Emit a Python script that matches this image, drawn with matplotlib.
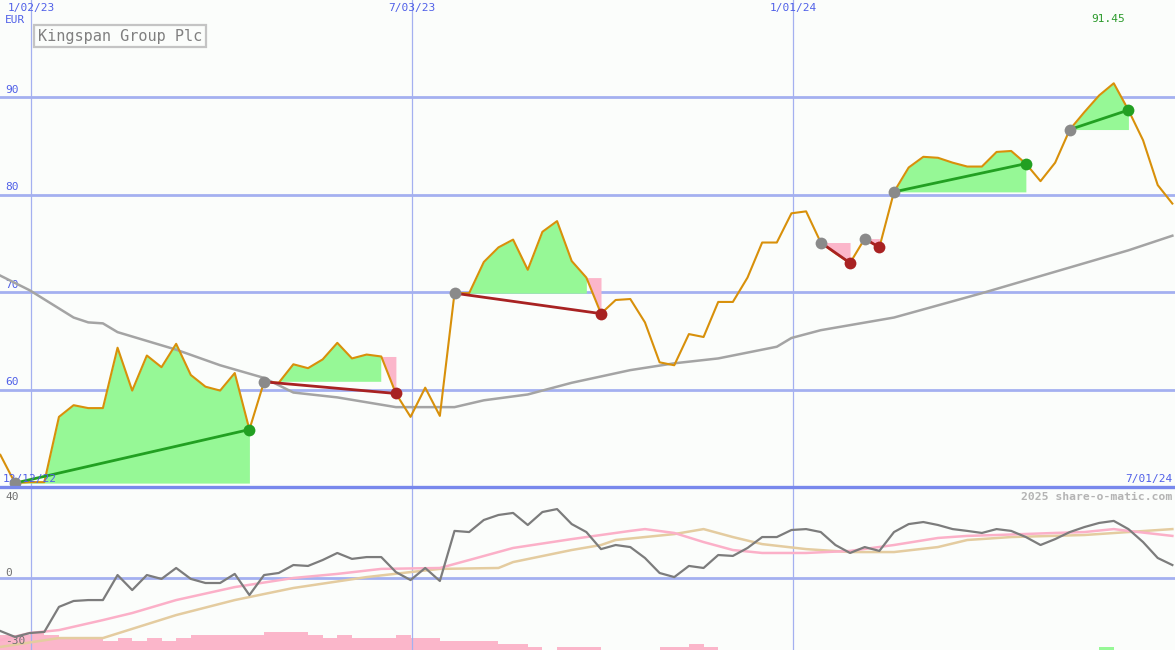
import matplotlib
matplotlib.use("Agg")
import matplotlib.pyplot as plt
import numpy as np
import pandas as pd

# weekly closes (EUR), one per week
price = [53.3, 50.4, 50.5, 50.5, 57.2, 58.4, 58.1, 58.1, 64.3, 59.9,
         63.5, 62.3, 64.7, 61.5, 60.3, 59.9, 61.7, 55.9, 60.8, 60.7,
         62.6, 62.2, 63.1, 64.8, 63.2, 63.6, 63.4, 59.6, 57.2, 60.2,
         57.3, 69.9, 69.9, 73.1, 74.6, 75.4, 72.3, 76.2, 77.3, 73.2,
         71.5, 67.8, 69.2, 69.3, 66.9, 62.8, 62.5, 65.7, 65.4, 69.0,
         69.0, 71.5, 75.1, 75.1, 78.1, 78.3, 75.1, 74.0, 73.0, 75.5,
         74.6, 80.3, 82.8, 83.9, 83.8, 83.3, 82.9, 82.9, 84.4, 84.5,
         83.2, 81.4, 83.3, 86.7, 88.5, 90.2, 91.45, 88.7, 85.6, 81.0, 79.1]

# long moving average read at some weeks
ma_idx = [0, 2, 5, 6, 7, 8, 12, 15, 18, 20, 23, 27, 31, 33, 36, 39, 43, 46,
          49, 53, 54, 56, 61, 67, 72, 77, 80]
ma_val = [71.7, 70.2, 67.4, 66.9, 66.8, 65.9, 64.1, 62.5, 61.2, 59.7, 59.2,
          58.2, 58.2, 58.9, 59.5, 60.7, 62.0, 62.7, 63.2, 64.4, 65.3, 66.1,
          67.4, 69.9, 72.1, 74.3, 75.8]

# trend signals: (start week, end week)
signals = [(1, 17), (18, 27), (31, 41), (56, 58), (59, 60), (61, 70), (73, 77)]

# lower panel: momentum + two averages
mom = [-23.3, -25.9, -24.2, -23.7, -12.7, -10.1, -9.7, -9.7, 1.3, -5.3,
       1.3, -0.4, 4.4, -0.4, -2.2, -2.2, 1.8, -7.5, 1.3, 2.2,
       5.7, 5.3, 7.9, 11.0, 8.4, 9.2, 9.2, 2.6, -0.9, 4.4,
       -1.3, 20.7, 20.2, 25.5, 27.7, 28.6, 23.3, 29.0, 30.3, 23.7,
       20.2, 12.7, 14.5, 13.6, 8.8, 2.2, 0.4, 5.3, 4.4, 10.1,
       9.7, 13.2, 18.0, 18.0, 21.1, 21.5, 20.2, 14.5, 11.0, 13.6,
       11.9, 20.2, 23.7, 24.6, 23.3, 21.5, 20.7, 19.8, 21.5, 20.7,
       18.0, 14.5, 17.1, 20.2, 22.4, 24.2, 25.1, 21.5, 15.8, 8.8, 5.7]

pink_idx = [0, 2, 4, 7, 9, 12, 16, 20, 23, 26, 30, 32, 35, 39, 41, 43, 44, 46,
            48, 50, 52, 55, 58, 61, 64, 66, 68, 72, 74, 76, 77, 80]
pink_val = [-27.3, -24.2, -22.9, -18.5, -15.4, -9.7, -4.0, 0.0, 1.8, 4.0, 4.4,
            7.9, 13.2, 17.1, 18.9, 20.7, 21.5, 19.8, 15.8, 12.3, 11.0, 11.0,
            11.9, 14.5, 17.6, 18.5, 18.9, 19.8, 20.2, 21.5, 20.7, 18.5]

tan_idx = [0, 4, 7, 12, 16, 20, 25, 28, 30, 34, 35, 39, 41, 42, 46, 48, 50,
           52, 55, 58, 61, 64, 66, 69, 74, 77, 80]
tan_val = [-30.3, -26.4, -26.4, -16.3, -9.7, -4.4, 0.4, 2.6, 4.0, 4.4, 7.0,
           12.3, 14.5, 16.7, 19.3, 21.5, 18.0, 14.9, 12.7, 11.4, 11.4, 13.6,
           16.7, 18.0, 18.9, 20.2, 21.5]

# bottom bars (negative = pink, positive = green)
bars = [-5, -5, -6, -5, -4, -4, -4, -3, -4, -3, -4, -3, -4, -5, -5, -5, -5,
        -5, -6, -6, -6, -5, -4, -5, -4, -4, -4, -5, -4, -4, -3, -3, -3, -3,
        -2, -2, -1, 0, -1, -1, -1, 0, 0, 0, 0, -1, -1, -2, -1, 0, 0, 0, 0,
        0, 0, 0, 0, 0, 0, 0, 0, 0, 0, 0, 0, 0, 0, 0, 0, 0, 0, 0, 0, 0, 0,
        1, 0, 0, 0, 0, 0]

date_ticks = ["1/02/23", "7/03/23", "1/01/24"]
date_pos = [2.09, 28.1, 54.1]
price_grid = [60, 70, 80, 90]

BG = "#fbfdfb"
BLUE = "#5060e8"
GRID = "#a4b0f0"
MONO = "DejaVu Sans Mono"

x = np.arange(len(price))
p = np.array(price)
xlim = (-0.024, 80.18)

fig = plt.figure(figsize=(11.75, 6.5), dpi=100, facecolor=BG)
ax = fig.add_axes([0, 1 - 487 / 650, 1, 487 / 650])
ax2 = fig.add_axes([0, 0, 1, 1 - 487 / 650])
for a in (ax, ax2):
    a.set_facecolor(BG)
    a.set_xlim(*xlim)
    a.axis("off")
    for d in date_pos:
        a.axvline(d, color=GRID, lw=0.9, zorder=1)

ax.set_ylim(50, 100)
for g in price_grid:
    ax.axhline(g, color=GRID, lw=2, zorder=1)
    ax.text(5 / 1175, g + 0.25, str(g), transform=ax.get_yaxis_transform(),
            color=BLUE, fontsize=8, family=MONO, va="bottom")

# signal fills
for s, e in signals:
    base = p[s]
    k = e
    if p[e] < base:
        k = max(i for i in range(s, e) if p[i] >= base)
        xs = x[k:e + 1]
        ax.fill_between(xs, p[k:e + 1], p[k], color="#fbb6ca", lw=0, zorder=2)
    if k > s:
        xs = x[s:k + 1]
        ax.fill_between(xs, p[s:k + 1], base, where=p[s:k + 1] >= base,
                        interpolate=True, color="#96f896", lw=0, zorder=2)

ax.plot(ma_idx, ma_val, color="#a4a4a4", lw=1.8, zorder=3)
ax.plot(x, p, color="#d8900a", lw=1.5, zorder=4)

for s, e in signals:
    up = p[e] >= p[s]
    c = "#22a022" if up else "#a82222"
    ax.plot([s, e], [p[s], p[e]], color=c, lw=2, zorder=5)
    ax.plot(s, p[s], "o", color="#8a8a8a", ms=8.5, mew=0, zorder=6)
    ax.plot(e, p[e], "o", color=c, ms=8.5, mew=0, zorder=6)

imax = int(np.argmax(p))
ax.text(imax - 0.4, 98.0, f"{p[imax]:.2f}", color="#2a9a2a", fontsize=8,
        family=MONO, ha="center", va="center")

ax.text(5 / 1175, 1 - 20 / 487, "EUR", transform=ax.transAxes, color=BLUE,
        fontsize=8, family=MONO, va="center")
for d, lab in zip(date_pos, date_ticks):
    ax.text(d, 1 - 8 / 487, lab, transform=ax.get_xaxis_transform(),
            color=BLUE, fontsize=8, family=MONO, ha="center", va="center")
ax.text(38 / 1175, 1 - 36 / 487, "Kingspan Group Plc", transform=ax.transAxes,
        color="#808080", fontsize=11, family=MONO, va="center",
        bbox=dict(boxstyle="square,pad=0.25", fc=BG, ec="#c4c4c4", lw=1.6))
ax.text(3 / 1175, 8 / 487, "12/12/22", transform=ax.transAxes, color=BLUE,
        fontsize=8, family=MONO, va="center", zorder=5)
ax.text(1172 / 1175, 8 / 487, "7/01/24", transform=ax.transAxes, color=BLUE,
        fontsize=8, family=MONO, ha="right", va="center")

# lower panel
ax2.set_ylim(-31.65, 40)
ax2.axhline(0, color=GRID, lw=2, zorder=1)
ax2.axhline(40, color="#7888ec", lw=2.4, zorder=7, clip_on=False)
bx = ax2.twinx()
bx.set_ylim(0, 163 / 3)
bx.set_xlim(*xlim)
bx.axis("off")
bv = np.array(bars)
bx.bar(np.arange(len(bv)), np.abs(bv), width=1.0, align="edge",
       color=np.where(bv < 0, "#fbb6ca", "#96f896"), lw=0, zorder=0)
ax2.set_zorder(bx.get_zorder() + 1)
ax2.patch.set_visible(False)
fig.patch.set_facecolor(BG)

ax2.plot(tan_idx, tan_val, color="#e4cca0", lw=1.8, zorder=3)
ax2.plot(pink_idx, pink_val, color="#fbb0c8", lw=1.8, zorder=3)
ax2.plot(x, mom, color="#7c7c7c", lw=1.6, zorder=4)

ax2.text(1172 / 1175, 35.8, "2025 share-o-matic.com", transform=ax2.get_yaxis_transform(),
         color="#b4b4b4", fontsize=8.2, family=MONO, fontweight="bold",
         ha="right", va="center")
for v, lab, yy in [(40, "40", 35.8), (0, "0", 2.2), (-30, "-30", -27.8)]:
    ax2.text(5 / 1175, yy, lab, transform=ax2.get_yaxis_transform(),
             color="#707070", fontsize=8, family=MONO, va="center")

fig.savefig("out.png", dpi=100, facecolor=BG)
